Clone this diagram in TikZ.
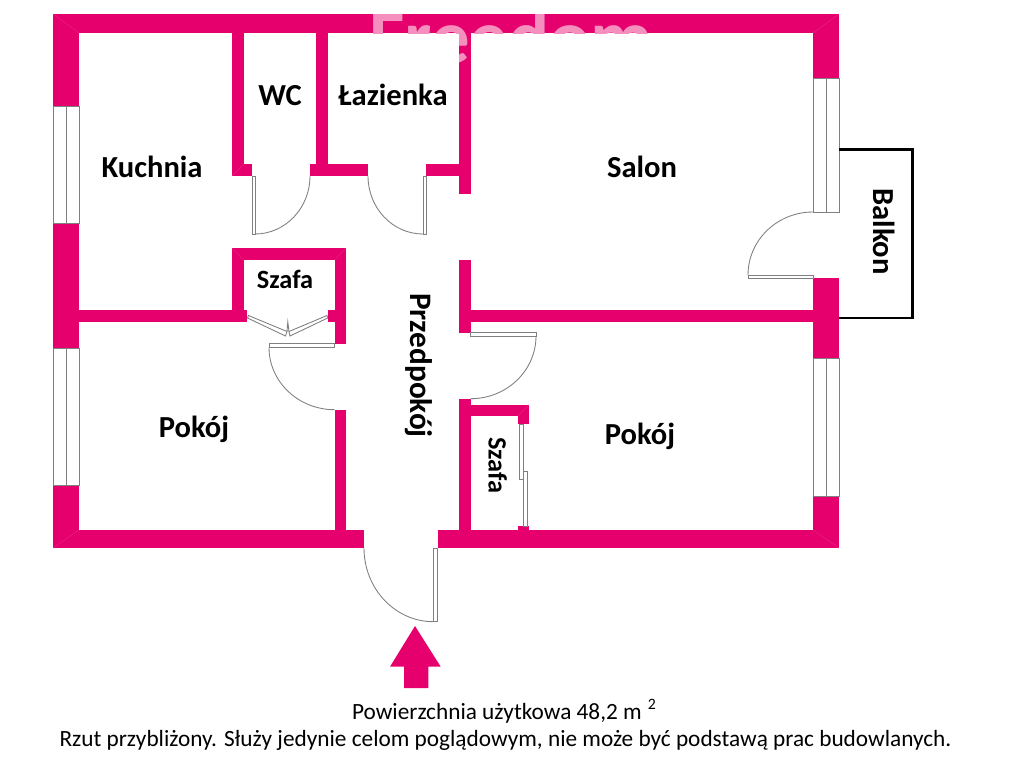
\documentclass[tikz,border=0pt]{standalone}
\usepackage{fontspec}
\setmainfont{Carlito}
\usetikzlibrary{positioning}
\definecolor{wallpink}{HTML}{E5006D}
\definecolor{markpink}{HTML}{F58FBE}
\definecolor{seampink}{HTML}{EA2B85}
\definecolor{leafgray}{HTML}{808080}
\tikzset{
  wall/.style={fill=wallpink},
  seam/.style={draw=seampink, line width=0.2pt},
  glass/.style={draw=leafgray, line width=0.5pt},
  leaf/.style={draw=leafgray, line width=0.5pt},
  roomlabel/.style={font=\bfseries\fontsize{17.4pt}{19pt}\selectfont, anchor=base, inner sep=0pt},
  smalllabel/.style={font=\bfseries\fontsize{15pt}{17pt}\selectfont, anchor=base, inner sep=0pt},
  notelabel/.style={font=\fontsize{13.25pt}{15pt}\selectfont, anchor=base, inner sep=0pt},
}
\begin{document}
\begin{tikzpicture}[x=0.02cm, y=-0.02cm]
    \useasboundingbox (0, 0) rectangle (1024, 768);

    \fill[wall] (53, 14) rectangle (839, 33);
    \fill[wall] (53, 530) rectangle (364, 548);
    \fill[wall] (437.5, 530) rectangle (839, 548);

    \fill[wall] (53, 14) rectangle (79, 106);
    \fill[wall] (53, 223) rectangle (79, 348);
    \fill[wall] (53, 485) rectangle (79, 548);
    \fill[wall] (813, 14) rectangle (839, 78);
    \fill[wall] (813, 278) rectangle (839, 358);
    \fill[wall] (813, 496) rectangle (839, 548);

    \fill[wall] (232, 33) rectangle (243.7, 176);
    \fill[wall] (232, 164) rectangle (252, 176);
    \fill[wall] (316, 33) rectangle (327.7, 176);
    \fill[wall] (310, 164) rectangle (368, 176);
    \fill[wall] (426, 164) rectangle (459, 176);
    \fill[wall] (459, 33) rectangle (470.7, 194);

    \fill[wall] (459, 259.5) rectangle (470.7, 333);
    \fill[wall] (459, 399) rectangle (470.7, 530);
    \fill[wall] (470.7, 310.3) rectangle (813, 322);

    \fill[wall] (470.7, 405) rectangle (529, 416);
    \fill[wall] (517.5, 405) rectangle (529, 424);
    \fill[wall] (517.5, 526) rectangle (529, 530);

    \fill[wall] (79, 310.3) rectangle (247.3, 322);
    \fill[wall] (232, 248.3) rectangle (345.7, 260);
    \fill[wall] (232, 248.3) rectangle (243.7, 322);
    \fill[wall] (334.7, 248.3) rectangle (345.7, 343.7);
    \fill[wall] (327.7, 310.3) rectangle (334.7, 322);
    \fill[wall] (334.7, 409.7) rectangle (345.7, 530);

    \begin{scope}
      \clip (53, 14) rectangle (839, 33) (459, 33) rectangle (470.7, 62);
      \node[font=\bfseries\fontsize{43.7pt}{46pt}\selectfont, text=markpink, anchor=base west, inner sep=0pt] (freedom) at (369, 63) {Freedom};
    \end{scope}

    \draw[seam] (53, 14) -- (79, 33);
    \draw[seam] (839, 14) -- (813, 33);
    \draw[seam] (53, 548) -- (79, 530);
    \draw[seam] (839, 548) -- (813, 530);
    \draw[seam] (232, 176) -- (243.7, 164);
    \draw[seam] (232, 248.3) -- (243.7, 260);
    \draw[seam] (345.7, 248.3) -- (334.7, 260);
    \draw[seam] (529, 405) -- (517.5, 416);

    \draw[glass] (53, 106) rectangle (79, 223);
    \draw[glass] (66, 106) -- (66, 223);
    \draw[glass] (53, 348) rectangle (79, 485);
    \draw[glass] (66, 348) -- (66, 485);
    \draw[glass] (813, 78) rectangle (839, 212);
    \draw[glass] (826, 78) -- (826, 212);
    \draw[glass] (813, 358) rectangle (839, 496);
    \draw[glass] (826, 358) -- (826, 496);

    \draw[leaf] (252, 176) rectangle (255.5, 234);
    \draw[leaf] (310, 176) arc[start angle=0, end angle=90, x radius=55, y radius=58];
    \draw[leaf] (423, 176) rectangle (426, 234);
    \draw[leaf] (368, 176) arc[start angle=180, end angle=90, x radius=55, y radius=58];
    \draw[leaf] (748, 275) rectangle (813, 278);
    \draw[leaf] (813, 212) arc[start angle=-90, end angle=-180, x radius=65, y radius=63];
    \draw[leaf] (269, 343.7) rectangle (334.7, 347.5);
    \draw[leaf] (269, 347.5) arc[start angle=180, end angle=90, x radius=65.7, y radius=62.2];
    \draw[leaf] (470.7, 332.7) rectangle (536, 336);
    \draw[leaf] (536, 336) arc[start angle=0, end angle=90, x radius=65.3, y radius=62.7];
    \draw[leaf] (433.5, 548) rectangle (437.5, 621.7);
    \draw[leaf] (364, 548) arc[start angle=180, end angle=90, x radius=69.5, y radius=73.7];

    \draw[leaf] (247.5, 318) -- (285.5, 336) -- (287, 331.5) -- (248.5, 315.5) -- cycle;
    \draw[leaf] (327.7, 318) -- (290, 336) -- (289, 331.5) -- (327, 315.5) -- cycle;
    \draw[leaf] (287, 331.5) -- (287.8, 322) -- (289, 331.5);

    \draw[leaf] (519.5, 424) rectangle (523.3, 479);
    \draw[leaf] (523.3, 471.5) rectangle (527, 526);

    \draw[line width=1.5pt] (839, 149.5) -- (912.5, 149.5) -- (912.5, 318) -- (839, 318);

    \fill[wall] (415, 626) -- (440.7, 666.7) -- (428.3, 666.7) -- (428.3, 688) -- (404, 688) -- (404, 666.7) -- (390, 666.7) -- cycle;

    \node[roomlabel] (kuchnia) at (152, 177.5) {Kuchnia};
    \node[roomlabel] (wc) at (280, 105.5) {WC};
    \node[roomlabel] (lazienka) at (393, 105.5) {Łazienka};
    \node[roomlabel] (salon) at (642, 177.5) {Salon};
    \node[roomlabel] (pokojleft) at (194, 437.5) {Pokój};
    \node[roomlabel] (pokojright) at (640, 444) {Pokój};
    \node[smalllabel] (szafatop) at (285, 288.5) {Szafa};
    \node[smalllabel, rotate=-90] (szafaright) at (488.5, 465.5) {Szafa};
    \node[roomlabel, font=\bfseries\fontsize{17.8pt}{19pt}\selectfont, rotate=-90] (przedpokoj) at (410.5, 365.5) {Przedpokój};
    \node[roomlabel, rotate=-90] (balkon) at (873, 231.5) {Balkon};

    \node[notelabel] (area) at (504, 719) {Powierzchnia użytkowa 48,2 m\hspace{3.5pt}\raisebox{0.9ex}{\fontsize{9pt}{10pt}\selectfont 2}};
    \node[notelabel] (disclaimer) at (505.5, 746.7) {Rzut przybliżony. Służy jedynie celom poglądowym, nie może być podstawą prac budowlanych.};
\end{tikzpicture}
\end{document}
